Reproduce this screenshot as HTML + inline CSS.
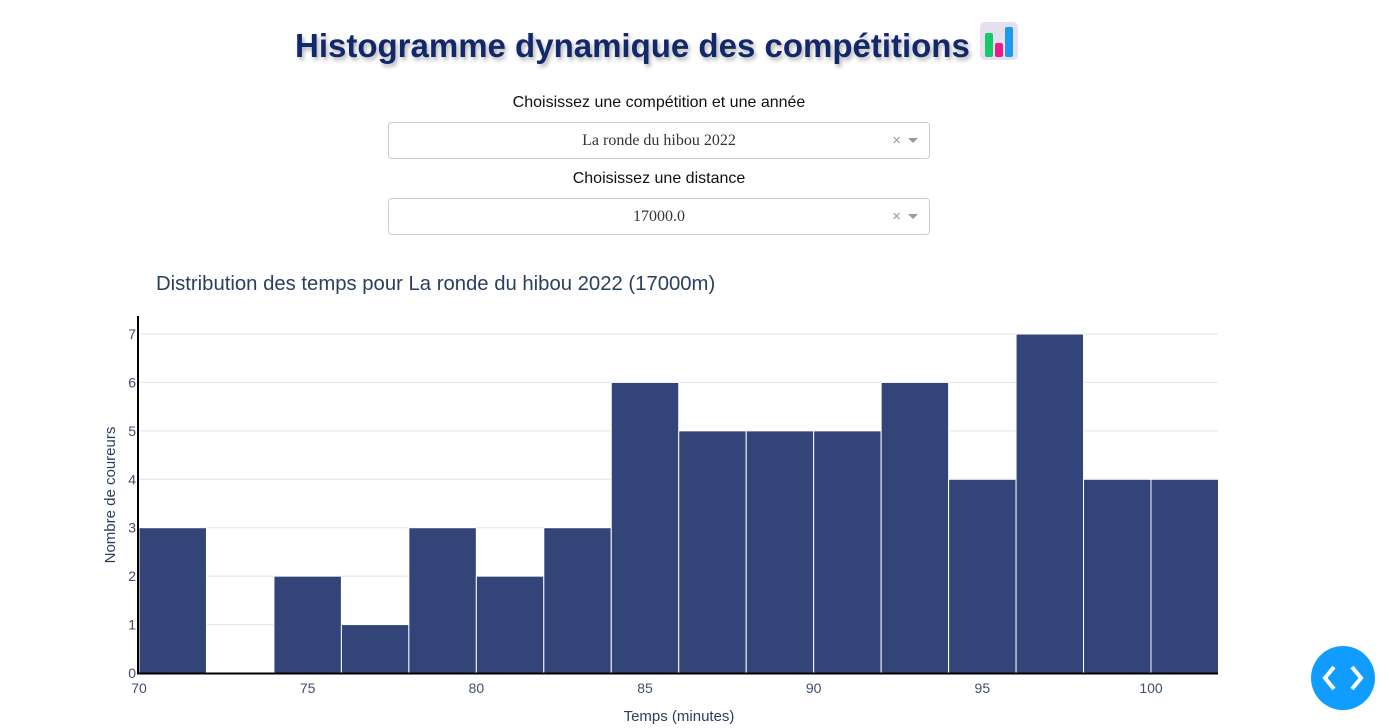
<!DOCTYPE html>
<html><head><meta charset="utf-8">
<style>
body{margin:0;width:1389px;height:728px;overflow:hidden;background:#fff;font-family:"Liberation Sans",sans-serif;position:relative}
h1{position:absolute;left:0;width:1314px;top:21px;margin:0;text-align:center;font-size:33px;font-weight:bold;color:#13286b;text-shadow:2px 3px 4px rgba(0,0,0,0.3)}
.lbl{position:absolute;left:388px;width:542px;text-align:center;font-size:16px;color:#111}
.dd{position:absolute;left:388px;width:540px;height:35px;border:1px solid #ccc;border-radius:4px;font-family:"Liberation Serif",serif;font-size:16px;color:#333;text-align:center;line-height:35px}
.dd .x{position:absolute;right:28px;top:0;color:#999;font-family:"Liberation Sans",sans-serif;font-size:15px}
.dd .c{position:absolute;right:11px;top:15px;width:0;height:0;border-left:5px solid transparent;border-right:5px solid transparent;border-top:5px solid #999}
</style></head><body>
<h1>Histogramme dynamique des compétitions <svg width="40" height="40" viewBox="0 0 40 40" style="vertical-align:-4px"><rect x="1" y="1" width="38" height="38" rx="5" fill="#e6e0ee"/><rect x="6" y="12" width="8" height="24" rx="2" fill="#18c96a"/><rect x="16" y="22" width="8" height="14" rx="2" fill="#ec1c8e"/><rect x="26" y="6" width="8" height="30" rx="2" fill="#1a9bef"/></svg></h1>
<div class="lbl" style="top:94px">Choisissez une compétition et une année</div>
<div class="dd" style="top:122px">La ronde du hibou 2022<span class="x">×</span><span class="c"></span></div>
<div class="lbl" style="top:170px">Choisissez une distance</div>
<div class="dd" style="top:198px">17000.0<span class="x">×</span><span class="c"></span></div>
<svg id="chart" width="1389" height="728" style="position:absolute;left:0;top:0" font-family="Liberation Sans, sans-serif">
<text x="156" y="290" font-size="20.3" fill="#2a3f5f">Distribution des temps pour La ronde du hibou 2022 (17000m)</text>
<g id="grid"></g><g id="bars"></g><g id="ticks"></g>
<line x1="138" y1="316" x2="138" y2="674" stroke="#000" stroke-width="2"/>
<line x1="137" y1="673.5" x2="1218" y2="673.5" stroke="#000" stroke-width="2"/>
<text x="115" y="495" font-size="15" fill="#2a3f5f" text-anchor="middle" transform="rotate(-90 115 495)">Nombre de coureurs</text>
<text x="679" y="721" font-size="15" fill="#2a3f5f" text-anchor="middle">Temps (minutes)</text>
</svg>
<svg style="position:absolute;left:1310px;top:645px" width="66" height="66"><circle cx="33" cy="33" r="32" fill="#119dff"/><path d="M24 22 L15 33 L24 44 M42 22 L51 33 L42 44" stroke="#fff" stroke-width="4" fill="none"/></svg>
<script>
const binStarts=[70,72,74,76,78,80,82,84,86,88,90,92,94,96,98,100];
const counts=[3,0,2,1,3,2,3,6,5,5,5,6,4,7,4,4];
const binWidth=2;
const xTicks=[70,75,80,85,90,95,100];
const yTicks=[0,1,2,3,4,5,6,7];
const NS="http://www.w3.org/2000/svg";
const xs=v=>139+(v-70)*(1151-139)/30;
const ys=v=>673-v*(673-334)/7;
const grid=document.getElementById('grid'),bars=document.getElementById('bars'),ticks=document.getElementById('ticks');
yTicks.forEach(t=>{
  if(t>0){const l=document.createElementNS(NS,'line');
  l.setAttribute('x1',139);l.setAttribute('x2',1218);l.setAttribute('y1',ys(t));l.setAttribute('y2',ys(t));
  l.setAttribute('stroke','#dfe3e8');
  
  
  grid.appendChild(l);}
  const tx=document.createElementNS(NS,'text');
  tx.setAttribute('x',136);tx.setAttribute('y',ys(t)+5);tx.setAttribute('text-anchor','end');tx.setAttribute('font-size','14');tx.setAttribute('fill','#3f4f6f');
  tx.textContent=t;
  
  
  ticks.appendChild(tx);
});
xTicks.forEach(t=>{
  const tx=document.createElementNS(NS,'text');
  tx.setAttribute('x',xs(t));tx.setAttribute('y',693);tx.setAttribute('text-anchor','middle');tx.setAttribute('font-size','14');tx.setAttribute('fill','#3f4f6f');
  tx.textContent=t;
  
  
  ticks.appendChild(tx);
});
binStarts.forEach((b,i)=>{
  if(counts[i]<=0)return;
  const r=document.createElementNS(NS,'rect');
  const x0=xs(b),x1=xs(b+binWidth);
  r.setAttribute('x',x0);r.setAttribute('width',x1-x0);
  r.setAttribute('y',ys(counts[i]));r.setAttribute('height',ys(0)-ys(counts[i]));
  r.setAttribute('fill','#334479');r.setAttribute('stroke','#fff');r.setAttribute('stroke-width','1');
  
  
  bars.appendChild(r);
});
</script>
</body></html>
